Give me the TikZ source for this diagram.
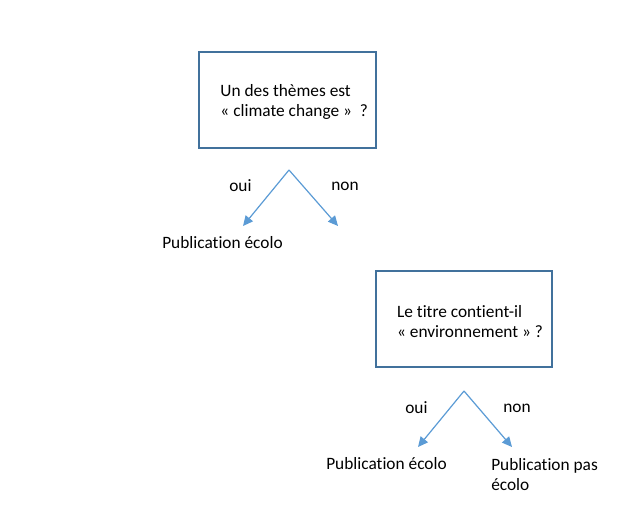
\documentclass[tikz,border=0pt]{standalone}
\usepackage{fontspec}
\setmainfont{Carlito}[Ligatures=NoCommon]
\usetikzlibrary{arrows.meta}
\definecolor{boxblue}{HTML}{41719C}
\definecolor{arrowblue}{HTML}{5B9BD5}

\begin{document}
\begin{tikzpicture}[x=0.75pt, y=-0.75pt,
    every node/.style = {font=\fontsize{13}{15.5}\selectfont},
    question/.style = {draw=boxblue, line width=1.5pt,
      minimum width=132.5pt, minimum height=72.5pt, inner sep=0pt},
    qtext/.style = {align=left, inner sep=0pt},
    answer/.style = {inner sep=0pt, anchor=west},
    branch/.style = {draw=arrowblue, line width=0.9pt,
      -{Triangle[length=7.5pt, width=7pt]}}]
    \useasboundingbox (0,0) rectangle (622,527);

    % first question
    \node[question, label={[qtext, xshift=5pt, yshift=-1.5pt]center:{Un des thèmes est\\«~climate change~»~~?}}] (Q1) at (287.5,100) {};
    \coordinate (Q1fork) at (289,170);
    \coordinate (Q1yes) at (243,226);
    \coordinate (Q1no) at (338,226);
    \draw[branch] (Q1fork) -- (Q1yes);
    \draw[branch] (Q1fork) -- (Q1no);
    \node[answer] (Q1oui) at (229,186) {oui};
    \node[answer] (Q1non) at (331,186) {non};
    \node[answer] (L1) at (162,243) {Publication écolo};

    % second question
    \node[question, label={[qtext, xshift=4.5pt, yshift=-2pt]center:{Le titre contient-il\\«~environnement~»~?}}] (Q2) at (464,319) {};
    \coordinate (Q2fork) at (464,391);
    \coordinate (Q2yes) at (418,447);
    \coordinate (Q2no) at (512,447);
    \draw[branch] (Q2fork) -- (Q2yes);
    \draw[branch] (Q2fork) -- (Q2no);
    \node[answer] (Q2oui) at (405,408) {oui};
    \node[answer] (Q2non) at (503,408) {non};
    \node[answer] (L2) at (326,464) {Publication écolo};
    \node[answer, anchor=north west, align=left] (L3) at (491,458) {Publication pas\\écolo};
\end{tikzpicture}
\end{document}
